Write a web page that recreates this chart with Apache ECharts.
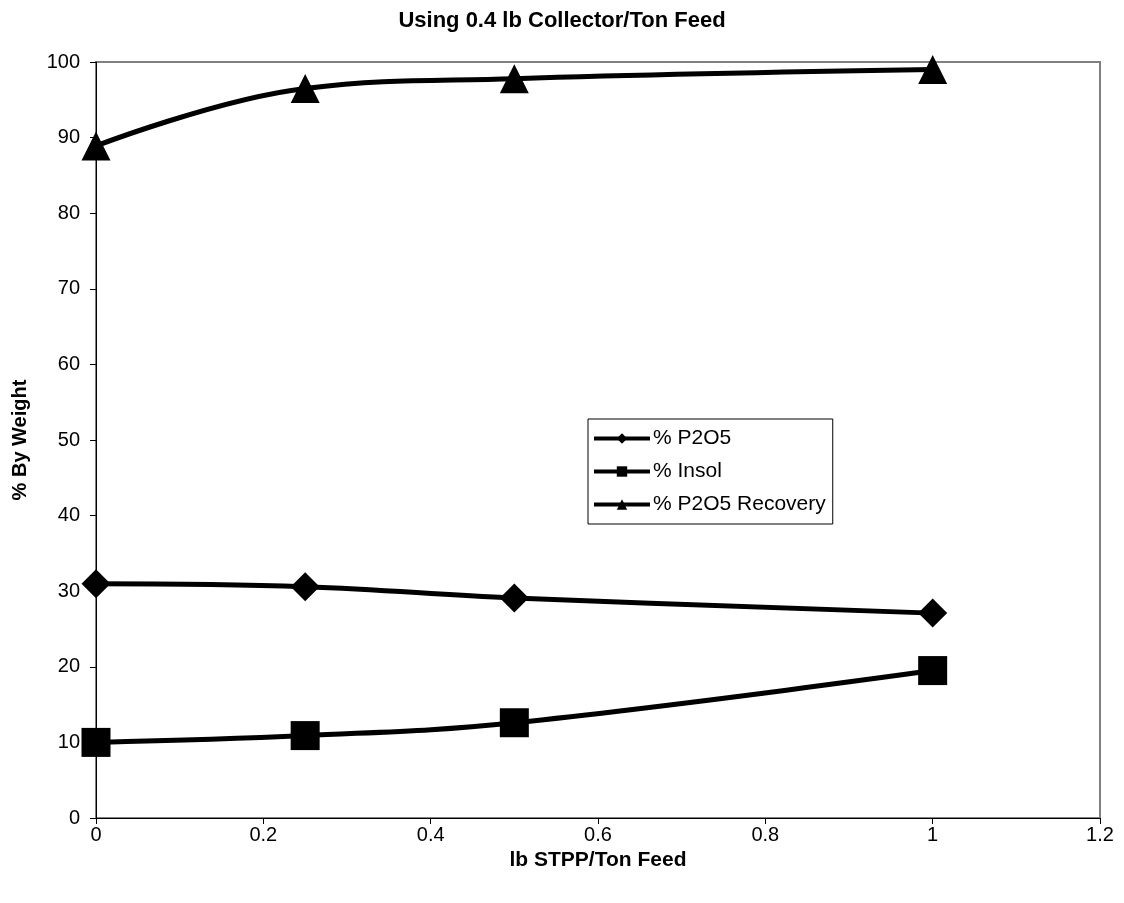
<!DOCTYPE html>
<html>
<head>
<meta charset="utf-8">
<script src="https://cdn.jsdelivr.net/npm/echarts@6/dist/echarts.min.js"></script>
<style>
  html, body { margin: 0; padding: 0; background: #fff; }
  #chart { width: 1124px; height: 903px; }
</style>
</head>
<body>
<div id="chart"></div>
<script>
// Dose of STPP (lb per ton of feed)
const stppDose = [0, 0.25, 0.5, 1];

// Assay and recovery results, % by weight
const p2o5 = [31.0, 30.6, 29.1, 27.1];
const insol = [10.0, 10.9, 12.6, 19.5];
const p2o5Recovery = [88.9, 96.5, 97.8, 99.0];

const seriesNames = ['% P2O5', '% Insol', '% P2O5 Recovery'];
const seriesSymbols = ['diamond', 'rect', 'triangle'];

const xTicks = { min: 0, max: 1.2, interval: 0.2 };
const yTicks = { min: 0, max: 100, interval: 10 };

const FONT = 'Liberation Sans, Arial, sans-serif';

function pairs(values) {
  return stppDose.map((x, i) => [x, values[i]]);
}

function lineSeries(name, symbol, values) {
  return {
    name: name,
    type: 'line',
    data: pairs(values),
    smooth: 0.4,
    symbol: symbol,
    symbolSize: 29,
    lineStyle: { color: '#000', width: 5 },
    itemStyle: { color: '#000' },
    emphasis: { disabled: true },
    z: 3
  };
}

const chart = echarts.init(document.getElementById('chart'), null, { renderer: 'canvas' });

chart.setOption({
  animation: false,
  backgroundColor: '#fff',
  title: {
    text: 'Using 0.4 lb Collector/Ton Feed',
    left: 'center',
    top: 5,
    textStyle: { fontFamily: FONT, fontSize: 22, fontWeight: 'bold', color: '#000' }
  },
  grid: {
    left: 96, right: 24, top: 62, bottom: 85,
    show: true,
    borderColor: '#808080',
    borderWidth: 2,
    backgroundColor: '#fff'
  },
  legend: {
    orient: 'vertical',
    left: 588,
    top: 419,
    data: seriesNames,
    itemWidth: 56,
    itemHeight: 13,
    itemGap: 12,
    padding: [9, 7, 9, 4],
    borderColor: '#000',
    borderWidth: 1,
    backgroundColor: '#fff',
    selectedMode: false,
    lineStyle: { width: 4 },
    textStyle: { fontFamily: FONT, fontSize: 21, color: '#000', padding: [0, 0, 0, -2] }
  },
  xAxis: {
    type: 'value',
    min: xTicks.min,
    max: xTicks.max,
    interval: xTicks.interval,
    name: 'lb STPP/Ton Feed',
    nameLocation: 'middle',
    nameGap: 32,
    nameTextStyle: { fontFamily: FONT, fontSize: 21, fontWeight: 'bold', color: '#000' },
    axisLine: { show: true, onZero: false, lineStyle: { color: '#000', width: 1 } },
    axisTick: { show: true, inside: false, length: 6, lineStyle: { color: '#000' } },
    axisLabel: { fontFamily: FONT, fontSize: 20, color: '#000', margin: 7 },
    splitLine: { show: false }
  },
  yAxis: {
    type: 'value',
    min: yTicks.min,
    max: yTicks.max,
    interval: yTicks.interval,
    name: '% By Weight',
    nameLocation: 'middle',
    nameGap: 66,
    nameTextStyle: { fontFamily: FONT, fontSize: 20, fontWeight: 'bold', color: '#000' },
    axisLine: { show: true, onZero: false, lineStyle: { color: '#000', width: 1 } },
    axisTick: { show: true, length: 6, lineStyle: { color: '#000' } },
    axisLabel: { fontFamily: FONT, fontSize: 20, color: '#000', margin: 16 },
    splitLine: { show: false }
  },
  series: [
    lineSeries(seriesNames[0], seriesSymbols[0], p2o5),
    lineSeries(seriesNames[1], seriesSymbols[1], insol),
    lineSeries(seriesNames[2], seriesSymbols[2], p2o5Recovery)
  ]
});
</script>
</body>
</html>
